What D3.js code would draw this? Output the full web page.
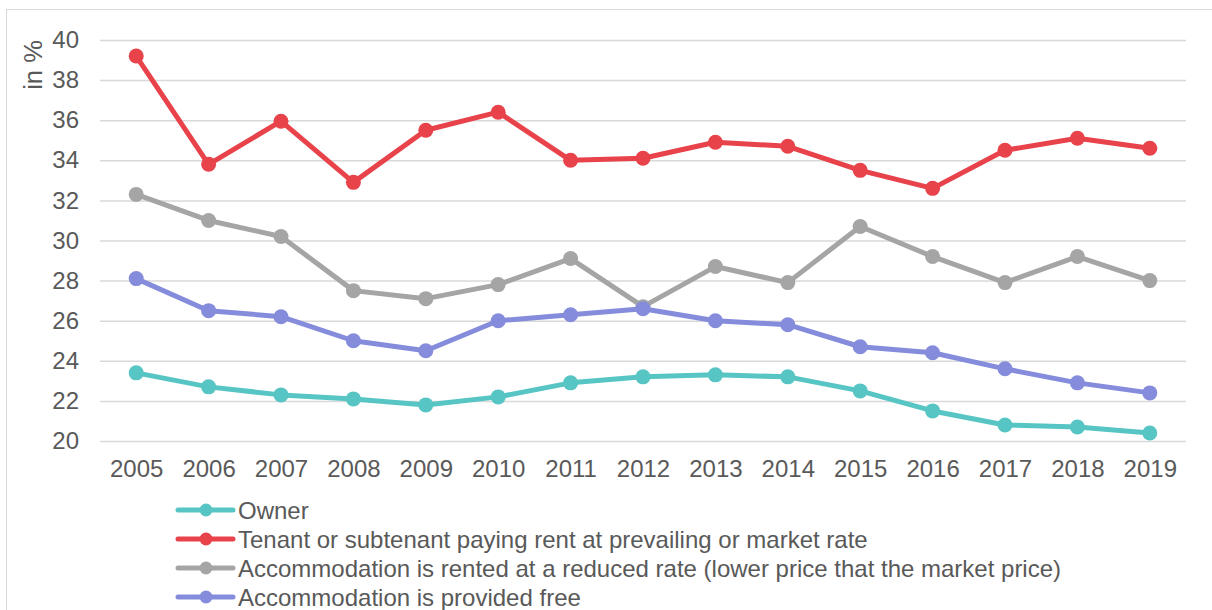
<!DOCTYPE html>
<html>
<head>
<meta charset="utf-8">
<script src="https://cdn.jsdelivr.net/npm/d3@7"></script>
<style>
  html, body { margin: 0; padding: 0; background: #fff; }
  svg { display: block; }
  text { font-family: "Liberation Sans", Arial, sans-serif; fill: #595959; }
</style>
</head>
<body>
<svg id="chart" width="1212" height="610"></svg>
<script>
// Years on the horizontal axis
const years = ["2005","2006","2007","2008","2009","2010","2011","2012","2013","2014","2015","2016","2017","2018","2019"];

// Share of each tenure status, in %
const owner   = [23.4, 22.7, 22.3, 22.1, 21.8, 22.2, 22.9, 23.2, 23.3, 23.2, 22.5, 21.5, 20.8, 20.7, 20.4];
const tenant  = [39.2, 33.8, 35.95, 32.9, 35.5, 36.4, 34.0, 34.1, 34.9, 34.7, 33.5, 32.6, 34.5, 35.1, 34.6];
const reduced = [32.3, 31.0, 30.2, 27.5, 27.1, 27.8, 29.1, 26.7, 28.7, 27.9, 30.7, 29.2, 27.9, 29.2, 28.0];
const free    = [28.1, 26.5, 26.2, 25.0, 24.5, 26.0, 26.3, 26.6, 26.0, 25.8, 24.7, 24.4, 23.6, 22.9, 22.4];

const seriesNames = [
  "Owner",
  "Tenant or subtenant paying rent at prevailing or market rate",
  "Accommodation is rented at a reduced rate (lower price that the market price)",
  "Accommodation is provided free"
];
const seriesColors = ["#57c5c3", "#e8424a", "#a5a5a5", "#858cdc"];
const seriesValues = [owner, tenant, reduced, free];

const yTicks = [20, 22, 24, 26, 28, 30, 32, 34, 36, 38, 40];

const svg = d3.select("#chart");
const fontStack = '"Liberation Sans", Arial, sans-serif';

// outer frame
svg.append("rect")
  .attr("x", 6.5).attr("y", 9.5)
  .attr("width", 1230).attr("height", 640)
  .attr("fill", "none").attr("stroke", "#d9d9d9").attr("stroke-width", 1);

const plotLeft = 100, plotRight = 1186, plotTop = 40, plotBottom = 441;

const x = d3.scalePoint().domain(years).range([plotLeft, plotRight]).padding(0.5);
const y = d3.scaleLinear().domain([20, 40]).range([plotBottom, plotTop]);

// horizontal gridlines + y labels
const yAxis = d3.axisLeft(y).tickValues(yTicks).tickSize(-(plotRight - plotLeft)).tickPadding(21).tickFormat(d3.format("d"));
const gy = svg.append("g").attr("transform", `translate(${plotLeft},0)`).call(yAxis);
gy.select(".domain").remove();
gy.selectAll(".tick line").attr("stroke", "#d9d9d9").attr("stroke-width", 1.5);
gy.selectAll(".tick text").attr("font-size", "24px").attr("fill", "#595959")
  .style("font-family", fontStack);

// x labels
const xAxis = d3.axisBottom(x).tickSize(0).tickPadding(19);
const gx = svg.append("g").attr("transform", `translate(0,${plotBottom})`).call(xAxis);
gx.select(".domain").remove();
gx.selectAll(".tick text").attr("font-size", "24px").attr("fill", "#595959")
  .style("font-family", fontStack);

// y axis title
svg.append("text")
  .attr("transform", "translate(42,65) rotate(-90)")
  .attr("text-anchor", "middle")
  .attr("font-size", "25.5px")
  .text("in %");

// series lines and markers
const line = d3.line().x((d, i) => x(years[i])).y(d => y(d));
seriesValues.forEach((vals, s) => {
  const g = svg.append("g");
  g.append("path")
    .datum(vals)
    .attr("d", line)
    .attr("fill", "none")
    .attr("stroke", seriesColors[s])
    .attr("stroke-width", 5)
    .attr("stroke-linejoin", "round");
  g.selectAll("circle").data(vals).join("circle")
    .attr("cx", (d, i) => x(years[i]))
    .attr("cy", d => y(d))
    .attr("r", 7.5)
    .attr("fill", seriesColors[s]);
});

// legend
const legendY = d3.scalePoint().domain(seriesNames).range([510, 597]);
const lg = svg.append("g");
seriesNames.forEach((name, s) => {
  const cy = legendY(name);
  lg.append("line")
    .attr("x1", 178).attr("x2", 233)
    .attr("y1", cy).attr("y2", cy)
    .attr("stroke", seriesColors[s]).attr("stroke-width", 5).attr("stroke-linecap", "round");
  lg.append("circle").attr("cx", 206).attr("cy", cy).attr("r", 6.5).attr("fill", seriesColors[s]);
  lg.append("text")
    .attr("x", 238).attr("y", cy)
    .attr("dy", "0.36em")
    .attr("font-size", "24px")
    .text(name);
});
</script>
</body>
</html>
